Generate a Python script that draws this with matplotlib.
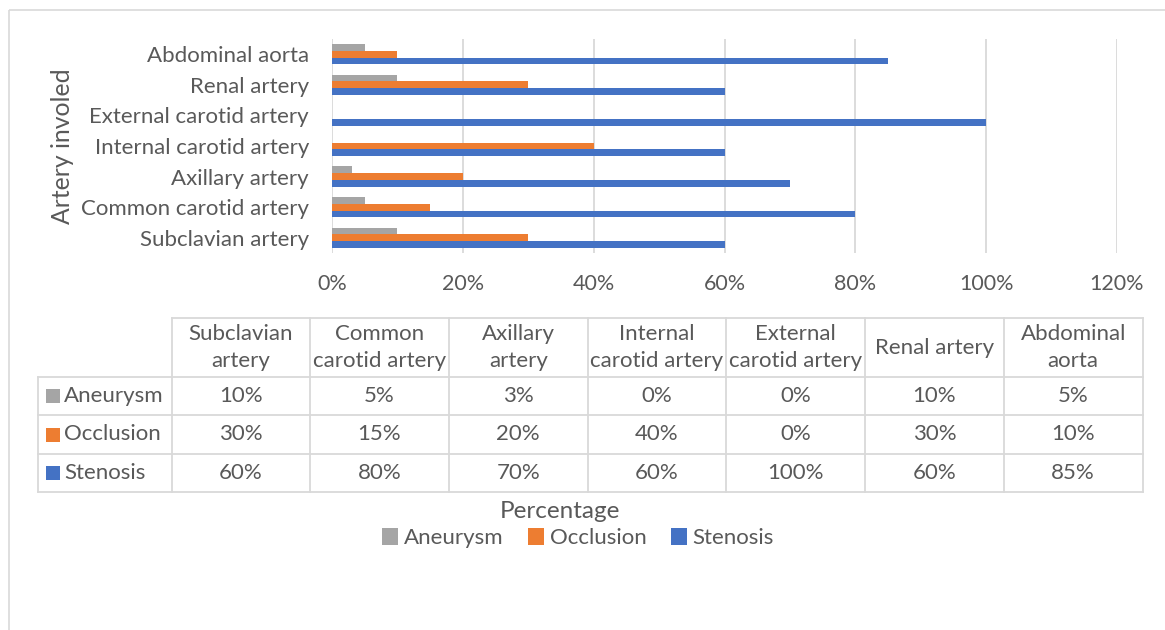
import matplotlib
matplotlib.use("Agg")
import matplotlib.pyplot as plt
from matplotlib.patches import Rectangle
from matplotlib.ticker import FuncFormatter

plt.rcParams['font.family'] = ['Lato', 'DejaVu Sans']

# data (percent of cases per artery)
categories = ['Subclavian artery', 'Common carotid artery', 'Axillary artery',
              'Internal carotid artery', 'External carotid artery',
              'Renal artery', 'Abdominal aorta']
header_labels = ['Subclavian\nartery', 'Common\ncarotid artery', 'Axillary\nartery',
                 'Internal\ncarotid artery', 'External\ncarotid artery',
                 'Renal artery', 'Abdominal\naorta']
series_names = ['Aneurysm', 'Occlusion', 'Stenosis']
aneurysm = [10, 5, 3, 0, 0, 10, 5]
occlusion = [30, 15, 20, 40, 0, 30, 10]
stenosis = [60, 80, 70, 60, 100, 60, 85]
x_ticks = [0, 20, 40, 60, 80, 100, 120]

colors = ['#A5A5A5', '#ED7D31', '#4472C4']
text_col = '#595959'
line_col = '#D9D9D9'
fs = 16

W, H = 1165, 630
fig = plt.figure(figsize=(W / 100, H / 100), dpi=100)

# overlay in pixel coordinates for frame, table and titles
ov = fig.add_axes([0, 0, 1, 1], zorder=0)
ov.set_xlim(0, W)
ov.set_ylim(H, 0)
ov.axis('off')
ov.add_patch(Rectangle((8.5, 9.5), 1300, 800, fill=False, ec=line_col, lw=1.2))

# main bar chart
ax = fig.add_axes([332 / W, 1 - 253 / H, (1117 - 332) / W, (253 - 39) / H], zorder=1)
ax.patch.set_alpha(0)
ypos = list(range(len(categories)))
h = 0.22
all_series = [aneurysm, occlusion, stenosis]
offsets = [h, 0, -h]
handles = []
for vals, off, c, name in zip(all_series, offsets, colors, series_names):
    b = ax.barh([y + off for y in ypos], vals, height=h, color=c, label=name, zorder=3)
    handles.append(b)

ax.set_xlim(0, 120)
ax.set_ylim(-0.5, len(categories) - 0.5)
ax.set_xticks(x_ticks)
ax.xaxis.set_major_formatter(FuncFormatter(lambda v, p: f'{v:.0f}%'))
ax.set_yticks(ypos)
ax.set_yticklabels(categories)
ax.tick_params(axis='y', length=0, pad=16.5, labelsize=fs, labelcolor=text_col)
ax.tick_params(axis='x', length=0, pad=15, labelsize=15.5, labelcolor=text_col)
ax.grid(axis='x', color=line_col, lw=1.3, zorder=0)
for s in ax.spines.values():
    s.set_visible(False)

fig.text(62 / W, 1 - 146 / H, 'Artery involed', rotation=90, ha='center', va='center',
         fontsize=17.8, color=text_col)

# data table under the chart
col_edges = [38, 172, 310, 449, 587.5, 726, 865, 1004, 1142.5]
row_edges = [318, 377, 415, 454, 492]
lkw = dict(color=line_col, lw=1.3, zorder=1)
# header row lines (no border on the corner cell)
ov.plot([col_edges[1], col_edges[-1]], [row_edges[0]] * 2, **lkw)
for yy in row_edges[1:]:
    ov.plot([col_edges[0], col_edges[-1]], [yy, yy], **lkw)
for i, xx in enumerate(col_edges):
    top = row_edges[0] if i > 0 else row_edges[1]
    ov.plot([xx, xx], [top, row_edges[-1]], **lkw)

for j, lab in enumerate(header_labels):
    cx = (col_edges[j + 1] + col_edges[j + 2]) / 2
    cy = (row_edges[0] + row_edges[1]) / 2
    ov.text(cx, cy, lab, ha='center', va='center', fontsize=fs, color=text_col,
            linespacing=1.45)

for i, (name, vals, c) in enumerate(zip(series_names, all_series, colors)):
    cy = (row_edges[i + 1] + row_edges[i + 2]) / 2
    ov.add_patch(Rectangle((46, cy - 7), 14, 14, color=c, lw=0))
    ov.text(64, cy, name, ha='left', va='center', fontsize=fs, color=text_col)
    for j, v in enumerate(vals):
        cx = (col_edges[j + 1] + col_edges[j + 2]) / 2
        ov.text(cx, cy, f'{v}%', ha='center', va='center', fontsize=fs, color=text_col)

fig.text(560 / W, 1 - 511 / H, 'Percentage', ha='center', va='center',
         fontsize=17.5, color=text_col)

fig.legend(handles=handles, labels=series_names, loc='center', ncol=3,
           bbox_to_anchor=(578 / W, 1 - 538 / H), frameon=False,
           fontsize=fs, labelcolor=text_col, handlelength=0.72, handleheight=0.8,
           handletextpad=0.25, columnspacing=1.1)

fig.savefig('out.png', dpi=100)
